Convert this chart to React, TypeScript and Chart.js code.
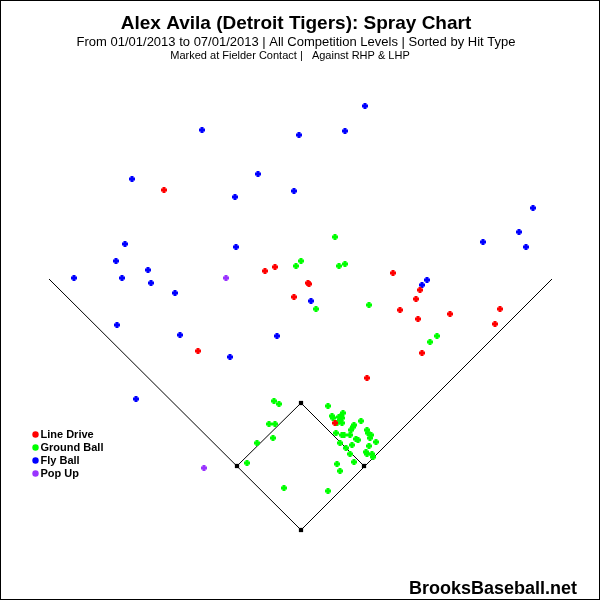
import React, { useEffect, useRef } from "react";
import { Chart, registerables } from "chart.js";

Chart.register(...registerables);

// Field coordinates: x to the right of home plate, y toward center field (chart units)
const lineDriveX = [-137, -36, -26, 7, 8, 92, 119, -7, 115, 99, 117, 149, 199, 194, 121, 66, -103, 34];
const lineDriveY = [340, 259, 263, 247, 246, 257, 240, 233, 231, 220, 211, 216, 221, 206, 177, 152, 179, 107];

const groundBallX = [34, 0, -5, 38, 44, 15, 68, 136, 129, -27, -22, -32, -26, -28, -44, -54, -17, 27, 27, 31, 32, 38, 40, 42, 41, 39, 36, 41, 60, 52, 53, 50, 49, 35, 41, 43, 66, 67, 70, 69, 55, 57, 75, 39, 51, 68, 45, 65, 66, 71, 72, 49, 53, 36, 39];
const groundBallY = [293, 269, 264, 264, 266, 221, 225, 194, 188, 129, 126, 106, 106, 92, 87, 67, 42, 39, 124, 114, 112, 113, 114, 117, 112, 110, 107, 107, 109, 103, 105, 100, 95, 97, 95, 95, 100, 97, 95, 92, 91, 90, 88, 87, 85, 84, 82, 78, 76, 76, 73, 76, 68, 66, 59];

const flyBallX = [64, -99, -2, 44, -169, -43, -66, -7, 232, 218, 182, 225, -176, -65, -185, -153, -227, -179, -150, -126, 121, 126, 10, -184, -121, -71, -24, -165];
const flyBallY = [424, 400, 395, 399, 351, 356, 333, 339, 322, 298, 288, 283, 286, 283, 269, 260, 252, 252, 247, 237, 245, 250, 229, 205, 195, 173, 194, 131];

const popUpX = [-75, -97];
const popUpY = [252, 62];

// Field outline
const foulLineX = [-252, 0, 251];
const foulLineY = [251, 0, 251];
const diamondX = [-64, 0, 63];
const diamondY = [64, 127, 64];
const baseX = [0, 63, 0, -64];
const baseY = [0, 64, 127, 64];

const hitTypes = ["Line Drive", "Ground Ball", "Fly Ball", "Pop Up"];
const hitColors = ["#FF0000", "#00FF00", "#0000FF", "#9933FF"];

const title = "Alex Avila (Detroit Tigers): Spray Chart";
const subtitle = "From 01/01/2013 to 07/01/2013 | All Competition Levels | Sorted by Hit Type";
const subtitle2 = "Marked at Fielder Contact |   Against RHP & LHP";
const watermark = "BrooksBaseball.net";

const pts = (xs: number[], ys: number[]) => xs.map((x, i) => ({ x, y: ys[i] }));

const decorPlugin = {
  id: "decor",
  beforeDraw(chart: any) {
    const ctx = chart.ctx;
    ctx.save();
    ctx.fillStyle = "#FFFFFF";
    ctx.fillRect(0, 0, chart.width, chart.height);
    ctx.restore();
  },
  afterDraw(chart: any) {
    const ctx = chart.ctx;
    ctx.save();
    ctx.fillStyle = "#000000";
    ctx.textAlign = "center";
    ctx.textBaseline = "alphabetic";
    ctx.font = "bold 19px 'Liberation Sans', Arial, sans-serif";
    ctx.fillText(title, 296, 29);
    ctx.font = "13px 'Liberation Sans', Arial, sans-serif";
    ctx.fillText(subtitle, 296, 46);
    ctx.font = "11px 'Liberation Sans', Arial, sans-serif";
    ctx.fillText(subtitle2, 290, 59);

    // legend
    ctx.textAlign = "left";
    ctx.textBaseline = "middle";
    ctx.font = "bold 11px 'Liberation Sans', Arial, sans-serif";
    hitTypes.forEach((name, i) => {
      const y = 434 + i * 13;
      ctx.fillStyle = hitColors[i];
      ctx.beginPath();
      ctx.arc(35.5, y + 0.5, 3.2, 0, Math.PI * 2);
      ctx.fill();
      ctx.fillStyle = "#000000";
      ctx.fillText(name, 40.5, y + 1);
    });

    // watermark
    ctx.textAlign = "left";
    ctx.textBaseline = "alphabetic";
    ctx.font = "bold 18px 'Liberation Sans', Arial, sans-serif";
    ctx.fillText(watermark, 409, 594);

    // border
    ctx.strokeStyle = "#000000";
    ctx.lineWidth = 1;
    ctx.strokeRect(0.5, 0.5, chart.width - 1, chart.height - 1);
    ctx.restore();
  },
};

export default function App() {
  const ref = useRef<HTMLCanvasElement | null>(null);
  useEffect(() => {
    if (!ref.current) return;
    const hitData = [
      pts(lineDriveX, lineDriveY),
      pts(groundBallX, groundBallY),
      pts(flyBallX, flyBallY),
      pts(popUpX, popUpY),
    ];
    const hitSets = hitTypes.map((name, i) => ({
      type: "scatter" as const,
      label: name,
      data: hitData[i],
      pointStyle: "cross",
      radius: 3,
      borderWidth: 3,
      borderColor: hitColors[i],
      backgroundColor: hitColors[i],
      order: i,
    }));
    const chart = new Chart(ref.current, {
      type: "scatter",
      data: {
        datasets: [
          ...hitSets,
          {
            type: "line" as const,
            label: "foul",
            data: pts(foulLineX, foulLineY),
            borderColor: "#000000",
            borderWidth: 1,
            pointRadius: 0,
            fill: false,
            order: 10,
          } as any,
          {
            type: "line" as const,
            label: "diamond",
            data: pts(diamondX, diamondY),
            borderColor: "#000000",
            borderWidth: 1,
            pointRadius: 0,
            fill: false,
            order: 11,
          } as any,
          {
            type: "scatter" as const,
            label: "bases",
            data: pts(baseX, baseY),
            pointStyle: "rect",
            radius: 3,
            borderWidth: 0,
            backgroundColor: "#000000",
            borderColor: "#000000",
            order: 9,
          } as any,
        ],
      },
      options: {
        animation: false,
        responsive: false,
        maintainAspectRatio: false,
        layout: { padding: 0, autoPadding: false },
        scales: {
          x: { type: "linear", min: -301, max: 299, display: false },
          y: { type: "linear", min: -70, max: 530, display: false },
        },
        plugins: {
          legend: { display: false },
          tooltip: { enabled: false },
          title: { display: false },
        },
        elements: { line: { tension: 0 } },
      },
      plugins: [decorPlugin],
    });
    return () => chart.destroy();
  }, []);
  return (
    <div style={{ position: "absolute", left: 0, top: 0, width: 600, height: 600 }}>
      <canvas ref={ref} width={600} height={600} style={{ display: "block" }} />
    </div>
  );
}
